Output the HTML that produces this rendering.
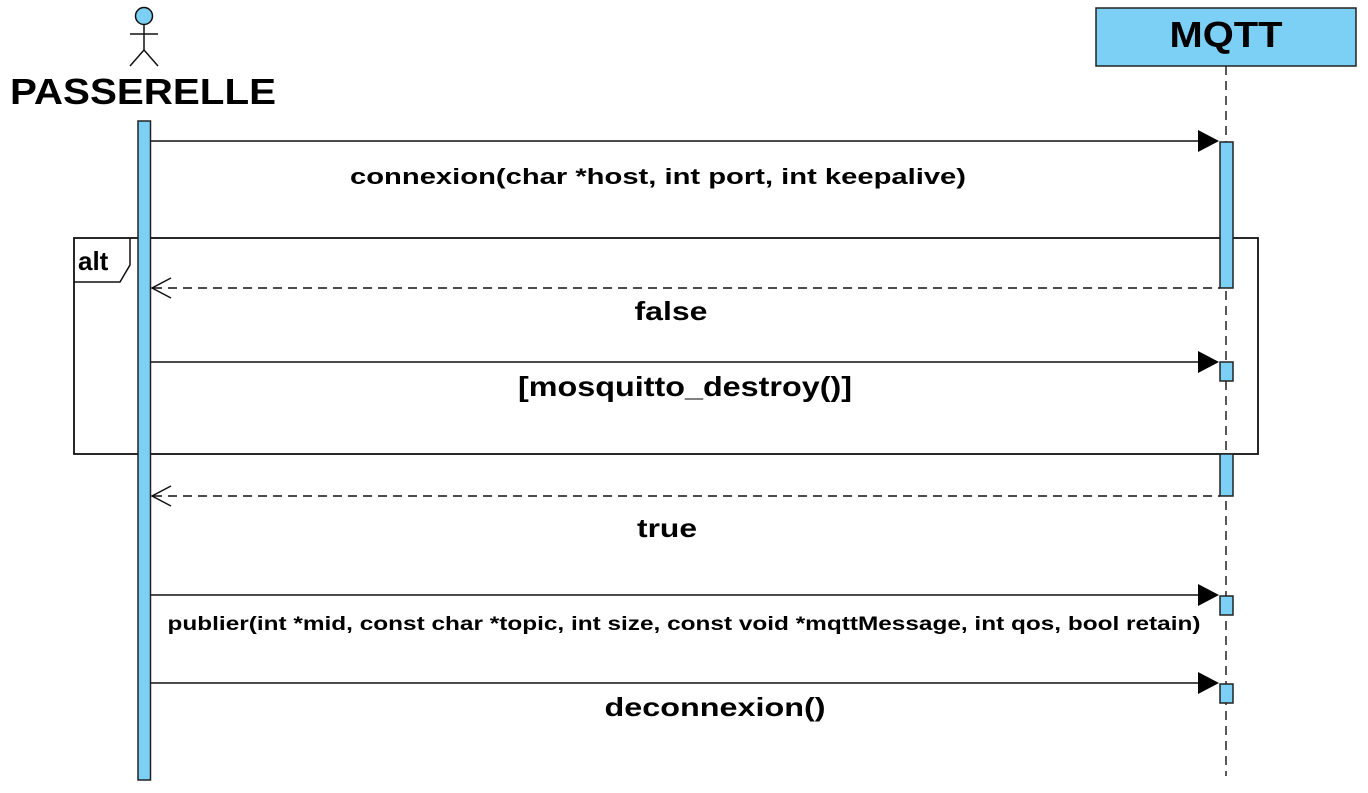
<!DOCTYPE html>
<html><head><meta charset="utf-8"><style>
html,body{margin:0;padding:0;background:#fff;width:1368px;height:793px;overflow:hidden}
text{font-family:"Liberation Sans",Arial,sans-serif;font-weight:bold;fill:#000}
</style></head><body>
<svg width="1368" height="793" viewBox="0 0 1368 793" xmlns="http://www.w3.org/2000/svg">
<!-- actor -->
<circle cx="144" cy="16" r="8.5" fill="#7ccff5" stroke="#111" stroke-width="1.5"/>
<line x1="144" y1="25" x2="144" y2="50" stroke="#111" stroke-width="1.5"/>
<line x1="130" y1="34" x2="158" y2="34" stroke="#111" stroke-width="1.5"/>
<line x1="144" y1="50" x2="130" y2="66" stroke="#111" stroke-width="1.5"/>
<line x1="144" y1="50" x2="158" y2="66" stroke="#111" stroke-width="1.5"/>
<text x="143" y="104" font-size="36" text-anchor="middle" textLength="266" lengthAdjust="spacingAndGlyphs">PASSERELLE</text>
<!-- MQTT -->
<rect x="1096" y="8" width="260" height="58" fill="#7ccff5" stroke="#222" stroke-width="1.5"/>
<text x="1226" y="47" font-size="36" text-anchor="middle" textLength="113" lengthAdjust="spacingAndGlyphs">MQTT</text>
<line x1="1226" y1="66" x2="1226" y2="776" stroke="#222" stroke-width="1.5" stroke-dasharray="9,6"/>
<!-- alt frame -->
<rect x="74" y="238" width="1184" height="216" fill="none" stroke="#111" stroke-width="1.8"/>
<path d="M74 282 H120 L130 265 V238" fill="none" stroke="#111" stroke-width="1.5"/>
<text x="78" y="270" font-size="26">alt</text>
<!-- activations -->
<rect x="138" y="121" width="12.5" height="659" fill="#7ccff5" stroke="#222" stroke-width="1.5"/>
<rect x="1220" y="142" width="13" height="146" fill="#7ccff5" stroke="#222" stroke-width="1.5"/>
<rect x="1220" y="362" width="13" height="19" fill="#7ccff5" stroke="#222" stroke-width="1.5"/>
<rect x="1220" y="454" width="13" height="42" fill="#7ccff5" stroke="#222" stroke-width="1.5"/>
<rect x="1220" y="596" width="13" height="19" fill="#7ccff5" stroke="#222" stroke-width="1.5"/>
<rect x="1220" y="684" width="13" height="19" fill="#7ccff5" stroke="#222" stroke-width="1.5"/>
<!-- messages -->
<g stroke="#111" stroke-width="1.5">
<line x1="151" y1="141" x2="1200" y2="141"/>
<line x1="151" y1="362" x2="1200" y2="362"/>
<line x1="151" y1="595" x2="1200" y2="595"/>
<line x1="151" y1="683" x2="1200" y2="683"/>
<line x1="153" y1="288" x2="1220" y2="288" stroke-dasharray="9,6"/>
<line x1="153" y1="496" x2="1220" y2="496" stroke-dasharray="9,6"/>
<polyline points="171,278 152,288 171,298" fill="none"/>
<polyline points="171,486 152,496 171,506" fill="none"/>
</g>
<g fill="#000">
<polygon points="1198,130 1219,141 1198,152"/>
<polygon points="1198,351 1219,362 1198,373"/>
<polygon points="1198,584 1219,595 1198,606"/>
<polygon points="1198,672 1219,683 1198,694"/>
</g>
<text x="658" y="184" font-size="22" text-anchor="middle" textLength="616" lengthAdjust="spacingAndGlyphs">connexion(char *host, int port, int keepalive)</text>
<text x="671" y="320" font-size="26" text-anchor="middle" textLength="73" lengthAdjust="spacingAndGlyphs">false</text>
<text x="685" y="396" font-size="28" text-anchor="middle" textLength="334" lengthAdjust="spacingAndGlyphs">[mosquitto_destroy()]</text>
<text x="667" y="537" font-size="26" text-anchor="middle" textLength="60" lengthAdjust="spacingAndGlyphs">true</text>
<text x="684" y="630" font-size="19" text-anchor="middle" textLength="1033" lengthAdjust="spacingAndGlyphs">publier(int *mid, const char *topic, int size, const void *mqttMessage, int qos, bool retain)</text>
<text x="715" y="716" font-size="26" text-anchor="middle" textLength="221" lengthAdjust="spacingAndGlyphs">deconnexion()</text>
</svg>
</body></html>
